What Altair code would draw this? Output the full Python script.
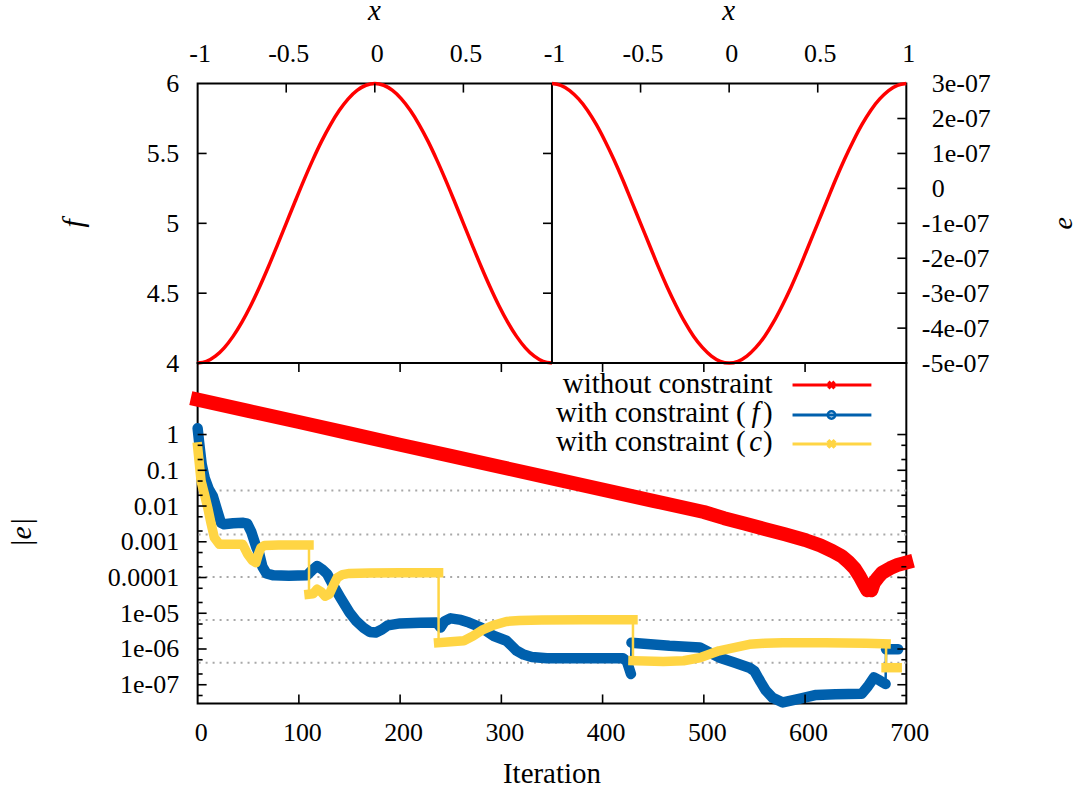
import altair as alt
import pandas as pd

FONT = "Liberation Serif"
RED = "#ff0000"
BLUE = "#0060ad"
YELLOW = "#ffd544"

# ---------------- top panels: f(x) and e(x) ----------------
x_vals = [-1.0, -0.95, -0.9, -0.85, -0.8, -0.75, -0.7, -0.65, -0.6, -0.55, -0.5,
          -0.45, -0.4, -0.35, -0.3, -0.25, -0.2, -0.15, -0.1, -0.05, 0.0,
          0.05, 0.1, 0.15, 0.2, 0.25, 0.3, 0.35, 0.4, 0.45, 0.5,
          0.55, 0.6, 0.65, 0.7, 0.75, 0.8, 0.85, 0.9, 0.95, 1.0]
f_vals = [4.000, 4.012, 4.049, 4.109, 4.191, 4.293, 4.412, 4.546, 4.691, 4.844, 5.000,
          5.156, 5.309, 5.454, 5.588, 5.707, 5.809, 5.891, 5.951, 5.988, 6.000,
          5.988, 5.951, 5.891, 5.809, 5.707, 5.588, 5.454, 5.309, 5.156, 5.000,
          4.844, 4.691, 4.546, 4.412, 4.293, 4.191, 4.109, 4.049, 4.012, 4.000]
e_vals = [3.00e-7, 2.95e-7, 2.80e-7, 2.56e-7, 2.24e-7, 1.83e-7, 1.35e-7, 0.82e-7, 0.24e-7, -0.38e-7, -1.00e-7,
          -1.62e-7, -2.24e-7, -2.82e-7, -3.35e-7, -3.83e-7, -4.24e-7, -4.56e-7, -4.80e-7, -4.95e-7, -5.00e-7,
          -4.95e-7, -4.80e-7, -4.56e-7, -4.24e-7, -3.83e-7, -3.35e-7, -2.82e-7, -2.24e-7, -1.62e-7, -1.00e-7,
          -0.38e-7, 0.24e-7, 0.82e-7, 1.35e-7, 1.83e-7, 2.24e-7, 2.56e-7, 2.80e-7, 2.95e-7, 3.00e-7]

top_x_label_values = [-1, -0.5, 0, 0.5, 1, 1.5, 2, 2.5, 3]
top_x_inner_ticks = [-0.5, 0, 0.5, 1.5, 2, 2.5]
f_ticks = [4, 4.5, 5, 5.5, 6]
f_inner_ticks = [4.5, 5, 5.5]
e_ticks = [-5e-7, -4e-7, -3e-7, -2e-7, -1e-7, 0, 1e-7, 2e-7, 3e-7]
e_inner_ticks = [-4e-7, -3e-7, -2e-7, -1e-7, 0, 1e-7, 2e-7]

# ---------------- bottom panel: |e| vs iteration ----------------
red_iter = [0, 50, 100, 150, 200, 250, 300, 350, 400, 450, 500, 520, 540, 560, 580, 600,
            615, 627, 636, 643, 649, 654, 658, 661.5, 663.5, 665.5, 668, 672, 676, 684, 692, 700]
red_val = [9.5, 4.6, 2.24, 1.08, 0.52, 0.254, 0.123, 0.0596, 0.0288, 0.014,
           0.0068, 0.00457, 0.00324, 0.00229, 0.00162, 0.00112, 0.000794, 0.00055, 0.000398, 0.000269,
           0.000178, 0.000107, 6.6e-5, 4.4e-5, 6.0e-5, 4.4e-5, 7.1e-5, 1.0e-4, 1.35e-4, 1.82e-4,
           2.29e-4, 2.63e-4]

blue_iter = [0, 1.5, 4, 7, 11, 15, 19, 23, 26, 35, 45, 49, 53, 58, 61, 64, 68, 75, 90, 108,
             113, 118, 123, 128, 134, 141, 150, 157, 164, 170, 176, 182, 188, 200, 220, 236, 240, 244, 250, 260,
             268, 280, 292, 305, 315, 322, 330, 345, 380, 420, 424, 428,
             428.5, 466, 496, 515, 530, 545, 550, 556, 561, 568, 578, 594, 611, 630, 656, 662, 668, 674, 679.5,
             680, 692]
blue_val = [1.5, 0.6, 0.15, 0.06, 0.03, 0.019, 0.008, 0.0034, 0.0031, 0.0033,
            0.0034, 0.0032, 0.0019, 0.0007, 0.00045, 0.0002, 0.00013, 0.000115, 0.000112, 0.000115,
            0.00016, 0.00021, 0.00017, 0.000125, 6.0e-5, 2.75e-5, 1.05e-5, 5.9e-6, 3.9e-6, 3.0e-6,
            2.9e-6, 3.5e-6, 4.6e-6, 5.2e-6, 5.4e-6, 5.5e-6, 4.0e-6, 6.0e-6, 7.2e-6, 6.5e-6,
            5.5e-6, 4.0e-6, 2.35e-6, 1.7e-6, 9.0e-7, 7.0e-7, 6.0e-7, 5.5e-7, 5.5e-7, 5.5e-7,
            4.5e-7, 2.0e-7,
            1.5e-6, 1.23e-6, 1.1e-6, 5.8e-7, 4.2e-7, 3.0e-7, 2.4e-7, 1.2e-7, 7.0e-8, 4.3e-8,
            3.2e-8, 4.0e-8, 5.2e-8, 5.4e-8, 5.6e-8, 9.0e-8, 1.6e-7, 1.3e-7, 1.05e-7,
            9.8e-7, 9.8e-7]
blue_seg = [0] * 52 + [1] * 19 + [2] * 2

yellow_iter = [0, 3.4, 7, 10, 13, 16.5, 21.5, 30, 44.5, 49.4, 54, 57.6, 60, 62.5, 66, 80, 100, 110,
               110, 114, 118, 122, 126, 130, 134, 138, 143, 150, 170, 200, 238,
               238, 250, 263, 272, 282, 293, 305, 318, 340, 380, 430,
               430, 460, 480, 496, 515, 530, 545, 560, 578, 620, 660, 680,
               680, 691]
yellow_val = [0.45, 0.05, 0.02, 0.0089, 0.0035, 0.0013, 0.00085, 0.00085, 0.00085, 0.00045,
              0.0003, 0.00026, 0.00045, 0.00068, 0.00079, 0.00081, 0.00081, 0.00081,
              3.4e-5, 3.5e-5, 4.7e-5, 4.0e-5, 3.0e-5, 3.4e-5, 6.0e-5, 1.0e-4, 1.2e-4, 1.3e-4,
              1.33e-4, 1.35e-4, 1.36e-4,
              1.5e-6, 1.6e-6, 1.7e-6, 2.3e-6, 3.5e-6, 4.7e-6, 5.9e-6, 6.3e-6, 6.5e-6, 6.6e-6, 6.6e-6,
              4.7e-7, 4.5e-7, 4.7e-7, 5.7e-7, 8.9e-7, 1.1e-6, 1.35e-6, 1.45e-6, 1.5e-6, 1.5e-6,
              1.45e-6, 1.4e-6,
              3.0e-7, 3.0e-7]
yellow_seg = [0] * 18 + [1] * 13 + [2] * 11 + [3] * 12 + [4] * 2

iter_ticks = [0, 100, 200, 300, 400, 500, 600, 700]
iter_inner_ticks = [100, 200, 300, 400, 500, 600]
log_major = [1e-7, 1e-6, 1e-5, 1e-4, 1e-3, 1e-2, 1e-1, 1]
log_major_exp = [-7, -6, -5, -4, -3, -2, -1, 0]
log_major_labels = ["1e-07", "1e-06", "1e-05", "0.0001", "0.001", "0.01", "0.1", "1"]
log_minor = [5e-8, 2e-7, 5e-7, 2e-6, 5e-6, 2e-5, 5e-5, 2e-4, 5e-4, 2e-3, 5e-3, 2e-2, 5e-2, 2e-1, 5e-1]
grid_levels = [0.027, 0.0016, 1.03e-4, 6.5e-6, 4.1e-7]

legend_labels = ["without constraint", "with constraint (", "with constraint ("]
legend_vars = ["", "f", "c"]
legend_colors = [RED, BLUE, YELLOW]

# ---------------- layout constants ----------------
W = 710
HALF = 355
HT = 280
HB = 341
MAJ = 9
MIN = 5
TICK_W = 1.6
LBL = 26
TXT = 29

xs_top = alt.Scale(domain=[-1, 3], nice=False, zero=False)
yf = alt.Scale(domain=[4, 6], nice=False, zero=False)
ye = alt.Scale(domain=[-5e-7, 3e-7], nice=False, zero=False)
xb = alt.Scale(domain=[0, 700], nice=False, zero=False)
yb = alt.Scale(type="log", domain=[3e-8, 100], nice=False)

x_top_axis = alt.Axis(orient="top", values=top_x_label_values,
                      labelExpr="'' + (datum.value >= 1 ? datum.value - 2 : datum.value)",
                      ticks=False, domain=False, grid=False, title=None,
                      labelFontSize=LBL, labelPadding=17, labelOffset=2,
                      labelFlush=False, labelOverlap=False)
f_axis = alt.Axis(orient="left", values=f_ticks, labelExpr="'' + datum.value",
                  ticks=False, domain=False, grid=False, title=None,
                  labelFontSize=LBL, labelPadding=19, labelOverlap=False, labelFlush=False)
e_axis = alt.Axis(orient="right", values=e_ticks,
                  labelExpr="round(datum.value * 1e7) == 0 ? '0' : round(datum.value * 1e7) + 'e-07'",
                  ticks=False, domain=False, grid=False, title=None, labelAlign="left",
                  labelFontSize=LBL,
                  labelPadding={"condition": {"test": "datum.value < -1e-9", "value": 15}, "value": 25},
                  labelOverlap=False, labelFlush=False)

y_label_expr = " : ".join(
    f"round(log(datum.value) / LN10) == {k} ? '{lab}'" for k, lab in zip(log_major_exp, log_major_labels)
) + " : ''"
x_bot_axis = alt.Axis(orient="bottom", values=iter_ticks, labelExpr="'' + datum.value",
                      ticks=False, domain=False, grid=False, title=None,
                      labelFontSize=LBL, labelPadding=16, labelOffset=3,
                      labelFlush=False, labelOverlap=False)
y_bot_axis = alt.Axis(orient="left", values=log_major, labelExpr=y_label_expr,
                      ticks=False, domain=False, grid=False, title=None,
                      labelFontSize=LBL, labelPadding=19, labelOverlap=False, labelFlush=False)


def hticks(values, scale, axis, x0, x1):
    return alt.Chart(pd.DataFrame({"v": values})).mark_rule(
        color="black", strokeWidth=TICK_W).encode(
        y=alt.Y("v:Q", scale=scale, axis=axis), x=alt.value(x0), x2=alt.value(x1))


def vticks(values, scale, axis, y0, y1):
    return alt.Chart(pd.DataFrame({"v": values})).mark_rule(
        color="black", strokeWidth=TICK_W).encode(
        x=alt.X("v:Q", scale=scale, axis=axis), y=alt.value(y0), y2=alt.value(y1))


def text(txt, x, y, size, style="normal", angle=0, align="center", baseline="alphabetic"):
    return alt.Chart(pd.DataFrame({"t": [txt]})).mark_text(
        font=FONT, fontSize=size, fontStyle=style, angle=angle, align=align,
        baseline=baseline, color="black").encode(
        text="t:N", x=alt.value(x), y=alt.value(y))


top_df = pd.DataFrame({"x": x_vals, "f": f_vals, "e": e_vals})

f_line = alt.Chart(top_df).mark_line(color=RED, strokeWidth=3.5, interpolate="monotone").encode(
    x=alt.X("x:Q", scale=xs_top, axis=x_top_axis),
    y=alt.Y("f:Q", scale=yf, axis=f_axis),
)

divider = alt.Chart(pd.DataFrame({"v": [1]})).mark_rule(color="black", strokeWidth=2).encode(
    x=alt.X("v:Q", scale=xs_top, axis=x_top_axis))

f_group = alt.layer(
    f_line,
    divider,
    hticks(f_inner_ticks, yf, f_axis, 0, MAJ),
    hticks(f_inner_ticks, yf, f_axis, HALF - MAJ, HALF),
    vticks(top_x_inner_ticks, xs_top, x_top_axis, 0, MAJ),
    text("x", 177, -64, 29, style="italic"),
    text("x", 532, -64, 29, style="italic"),
    text("f", -124, 140, 30, style="italic", angle=270, baseline="middle"),
    text("e", 868, 140, 28, style="italic", angle=270, baseline="middle"),
)

e_line = alt.Chart(top_df).transform_calculate(xs="datum.x + 2").mark_line(
    color=RED, strokeWidth=3.5, interpolate="monotone").encode(
    x=alt.X("xs:Q", scale=xs_top, axis=x_top_axis),
    y=alt.Y("e:Q", scale=ye, axis=e_axis),
)

e_group = alt.layer(e_line, hticks(e_inner_ticks, ye, e_axis, W - MAJ, W))

top = alt.layer(f_group, e_group).resolve_scale(y="independent").resolve_axis(
    y="independent").properties(width=W, height=HT)


# ---------------- bottom chart ----------------
def series_df(iters, vals, segs):
    return pd.DataFrame({"iter": iters, "val": vals, "seg": segs, "i": list(range(len(iters)))})


red_df = series_df(red_iter, red_val, [0] * len(red_iter))
blue_df = series_df(blue_iter, blue_val, blue_seg)
yellow_df = series_df(yellow_iter, yellow_val, yellow_seg)

grid = alt.Chart(pd.DataFrame({"g": grid_levels})).mark_rule(
    color="#a8a8a8", strokeWidth=2, strokeDash=[2, 5]).encode(
    y=alt.Y("g:Q", scale=yb, axis=y_bot_axis))


def series_layers(df, color, thick, cap):
    thin = alt.Chart(df).mark_line(color=color, strokeWidth=2.5).encode(
        x=alt.X("iter:Q", scale=xb, axis=x_bot_axis),
        y=alt.Y("val:Q", scale=yb, axis=y_bot_axis),
        order="i:Q")
    band = alt.Chart(df).mark_line(color=color, strokeWidth=thick, strokeCap=cap,
                                   strokeJoin="round").encode(
        x=alt.X("iter:Q", scale=xb, axis=x_bot_axis),
        y=alt.Y("val:Q", scale=yb, axis=y_bot_axis),
        detail="seg:N",
        order="i:Q")
    return [thin, band]


layers = [grid]
layers += series_layers(red_df, RED, 14, "square")
layers += series_layers(blue_df, BLUE, 10.5, "round")
layers += series_layers(yellow_df, YELLOW, 9.5, "square")

layers += [
    hticks(log_major, yb, y_bot_axis, 0, MAJ),
    hticks(log_minor, yb, y_bot_axis, 0, MIN),
    hticks(log_major, yb, y_bot_axis, W - MAJ, W),
    hticks(log_minor, yb, y_bot_axis, W - MIN, W),
    vticks(iter_inner_ticks, xb, x_bot_axis, HB - MAJ, HB),
    vticks(iter_inner_ticks, xb, x_bot_axis, 0, MAJ),
]

# legend
row_y = [22, 52, 81]
for k in range(3):
    y = row_y[k]
    if legend_vars[k] == "":
        layers.append(text(legend_labels[k], 576, y + 7.5, TXT, align="right"))
    else:
        layers.append(text(legend_labels[k], 549, y + 7.5, TXT, align="right"))
        layers.append(text(legend_vars[k], 559, y + 7.5, TXT, style="italic", align="center"))
        layers.append(text(")", 576, y + 7.5, TXT, align="right"))
    layers.append(
        alt.Chart(pd.DataFrame({"c": [legend_colors[k]]})).mark_rule(
            color=legend_colors[k], strokeWidth=3).encode(
            x=alt.value(596), x2=alt.value(675), y=alt.value(y)))

layers.append(alt.Chart(pd.DataFrame({"m": ["x"]})).mark_point(
    shape="cross", angle=45, filled=True, size=80, color=RED, opacity=1).encode(
    x=alt.value(635), y=alt.value(row_y[0])))
layers.append(alt.Chart(pd.DataFrame({"m": ["o"]})).mark_point(
    shape="circle", filled=False, size=55, strokeWidth=2.5, color=BLUE, opacity=1).encode(
    x=alt.value(635), y=alt.value(row_y[1])))
layers.append(alt.Chart(pd.DataFrame({"m": ["*"]})).mark_point(
    shape="cross", angle=45, filled=True, size=100, color=YELLOW, opacity=1).encode(
    x=alt.value(635), y=alt.value(row_y[2])))

layers.append(text("|e|", -176, 170, 30, style="italic", angle=270, baseline="middle"))
layers.append(text("Iteration", 355, 412, TXT, baseline="middle"))

bottom = alt.layer(*layers).properties(width=W, height=HB)

chart = alt.vconcat(top, bottom, spacing=0, bounds="flush").properties(
    padding={"left": 6, "top": -5, "right": 0, "bottom": 0},
).configure_view(stroke="black", strokeWidth=2).configure_axis(
    labelFont=FONT, labelColor="black")

chart.save("out.html", embed_options={"renderer": "svg", "actions": False})
